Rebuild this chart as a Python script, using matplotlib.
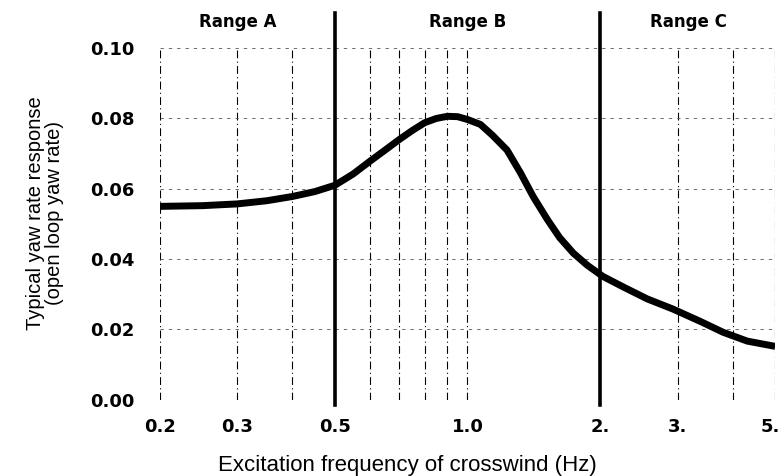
import matplotlib
matplotlib.use("Agg")
import matplotlib.pyplot as plt
import matplotlib.transforms as mtransforms
from matplotlib.ticker import FixedLocator, FixedFormatter, NullLocator

# Werte
freq = [0.2, 0.25, 0.3, 0.35, 0.4, 0.45, 0.5, 0.55, 0.6, 0.65, 0.7, 0.75, 0.8, 0.85,
        0.9, 0.95, 1.0, 1.07, 1.14, 1.23, 1.32, 1.41, 1.52, 1.62, 1.74, 1.87, 2.03,
        2.25, 2.56, 2.93, 3.38, 3.81, 4.32, 5.0]
resp = [0.0550, 0.0552, 0.0557, 0.0566, 0.0578, 0.0592, 0.0610, 0.0642, 0.0678, 0.0710,
        0.0740, 0.0766, 0.0788, 0.0800, 0.0806, 0.0805, 0.0797, 0.0783, 0.0752, 0.0710,
        0.0645, 0.0578, 0.0512, 0.0461, 0.0417, 0.0383, 0.0351, 0.0322, 0.0287, 0.0258,
        0.0223, 0.0192, 0.0167, 0.0152]

xticks = [0.2, 0.3, 0.5, 1.0, 2.0, 3.0, 5.0]
xticklabels = ["0.2", "0.3", "0.5", "1.0", "2.", "3.", "5."]
xgrid = [0.2, 0.3, 0.4, 0.5, 0.6, 0.7, 0.8, 0.9, 1.0, 2.0, 3.0, 4.0, 5.0]
yticks = [0.00, 0.02, 0.04, 0.06, 0.08, 0.10]
range_bounds = [0.5, 2.0]
range_names = ["Range A", "Range B", "Range C"]
range_label_x = [0.30, 1.0, 3.17]

fig = plt.figure(figsize=(7.83, 4.76), dpi=100)
ax = fig.add_axes([0.204, 0.160, 0.786, 0.739])

ax.set_xscale("log")
ax.set_xlim(0.2, 5.0)
ax.set_ylim(0.0, 0.10)

# Gitter
for g in xgrid:
    ax.axvline(g, color="black", lw=0.8, ls=(0, (7, 3, 1, 3)), zorder=1)
for y in yticks[1:]:
    ax.axhline(y, color="#555555", lw=0.6, ls=(0, (4, 6)), zorder=1)

# Bereichsgrenzen
for b in range_bounds:
    ax.axvline(b, ymin=-0.015, ymax=1.10, color="black", lw=2.6, clip_on=False, zorder=3)
for xl, name in zip(range_label_x, range_names):
    ax.text(xl, 1.075, name, transform=ax.get_xaxis_transform(), ha="center", va="center",
            fontsize=12, fontweight="bold")

ax.plot(freq, resp, color="black", lw=5, solid_capstyle="butt", solid_joinstyle="round",
        zorder=4)

ax.xaxis.set_major_locator(FixedLocator(xticks))
ax.xaxis.set_major_formatter(FixedFormatter(xticklabels))
ax.xaxis.set_minor_locator(NullLocator())
ax.set_yticks(yticks)
ax.set_yticklabels(["%.2f" % v for v in yticks])
ax.tick_params(axis="both", length=0, labelsize=13)
ax.tick_params(axis="x", pad=13)
ax.tick_params(axis="y", pad=18)
for lab in ax.get_xticklabels() + ax.get_yticklabels():
    lab.set_fontweight("bold")

# letzte Beschriftung etwas nach links, damit sie nicht abgeschnitten wird
shift = mtransforms.ScaledTranslation(-5 / 100, 0, fig.dpi_scale_trans)
last = ax.get_xticklabels()[-1]
last.set_transform(last.get_transform() + shift)

for s in ax.spines.values():
    s.set_visible(False)

ax.set_xlabel("Excitation frequency of crosswind (Hz)", fontsize=16,
              family="Liberation Sans")
ax.xaxis.set_label_coords(0.403, -0.158)
ax.set_ylabel("Typical yaw rate response\n(open loop yaw rate)", fontsize=14.5,
              family="Liberation Sans", linespacing=1.05)
ax.yaxis.set_label_coords(-0.155, 0.53)

fig.savefig("out.png", dpi=100)
